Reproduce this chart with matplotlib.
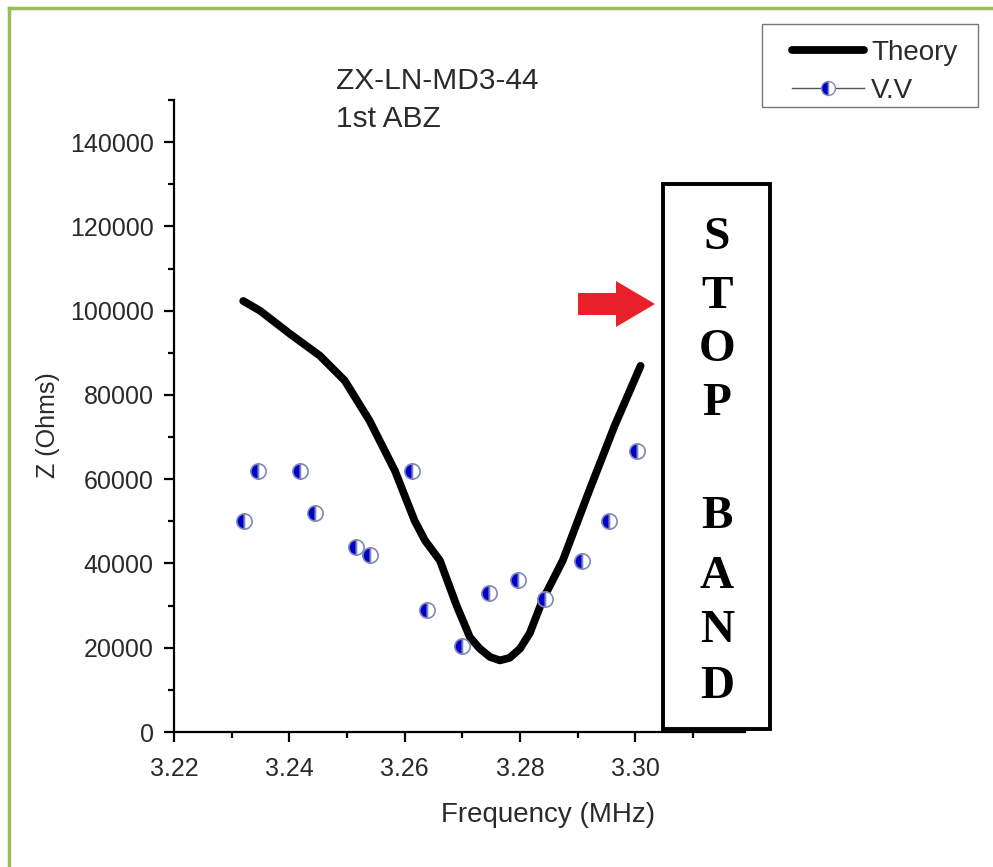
import matplotlib.pyplot as plt
from matplotlib.lines import Line2D
from matplotlib.patches import Polygon, Rectangle


# =====================================
# Data
# =====================================

theory_freq = [3.2320, 3.2349, 3.2401, 3.2453, 3.2496, 3.2539, 3.2583,
               3.2617, 3.2635, 3.2661, 3.2690, 3.2713, 3.2730, 3.2748,
               3.2765, 3.2782, 3.2800, 3.2817, 3.2839, 3.2874, 3.2920,
               3.2964, 3.3009]
theory_z = [102300, 100000, 94500, 89300, 83400, 73900, 62000,
            50200, 45500, 40700, 30000, 22500, 19800, 17800,
            17000, 17600, 19800, 23500, 31300, 40700, 57300,
            72700, 86900]

vv_freq = [3.2321, 3.2345, 3.2418, 3.2444, 3.2515, 3.2539, 3.2612,
           3.2638, 3.2699, 3.2747, 3.2796, 3.2844, 3.2908, 3.2955, 3.3003]
vv_z = [50000, 62000, 62000, 52000, 44000, 42000, 62000,
        29000, 20500, 33000, 36000, 31500, 40500, 50000, 66700]

x_ticks = [3.22, 3.24, 3.26, 3.28, 3.30]
x_tick_labels = ["3.22", "3.24", "3.26", "3.28", "3.30"]
y_ticks = [0, 20000, 40000, 60000, 80000, 100000, 120000, 140000]

stop_letters = ["S", "T", "O", "P", "", "B", "A", "N", "D"]


# =====================================
# Figure
# =====================================

W, H = 993, 867

plt.rcParams["font.family"] = ["Liberation Sans", "DejaVu Sans"]

fig = plt.figure(figsize=(W / 100, H / 100), dpi=100)
fig.patch.set_facecolor("white")

ax = fig.add_axes([174 / W, 1 - 732 / H, (745 - 174) / W, (732 - 100) / H])

ax.plot(theory_freq, theory_z, color="black", linewidth=5.6,
        solid_capstyle="round", solid_joinstyle="round", zorder=2)

ax.plot(vv_freq, vv_z, linestyle="none", marker="o", markersize=11,
        fillstyle="left", markerfacecolor="#0000cc",
        markerfacecoloralt="white", markeredgecolor="#8088b8",
        markeredgewidth=1.2, zorder=3)

ax.set_xlim(3.22, 3.319)
ax.set_ylim(0, 150000)

ax.set_xticks(x_ticks)
ax.set_xticklabels(x_tick_labels)
ax.set_xticks([3.23, 3.25, 3.27, 3.29, 3.31], minor=True)
ax.set_yticks(y_ticks)
ax.set_yticks([10000, 30000, 50000, 70000, 90000, 110000, 130000, 150000],
              minor=True)

ax.spines["top"].set_visible(False)
ax.spines["right"].set_visible(False)
ax.spines["left"].set_linewidth(1.6)
ax.spines["bottom"].set_linewidth(1.6)

ax.tick_params(which="major", direction="out", length=7, width=1.6,
               labelsize=18, labelcolor="#2a2a2a")
ax.tick_params(axis="y", which="major", pad=7.5)
ax.tick_params(axis="x", which="major", pad=11)
ax.tick_params(which="minor", direction="out", length=4, width=1.6)

ax.set_xlabel("Frequency (MHz)", fontsize=20, color="#2a2a2a")
ax.set_ylabel("Z (Ohms)", fontsize=18, color="#2a2a2a")
ax.xaxis.set_label_coords(0.655, -0.11)
ax.yaxis.set_label_coords(-0.199, 0.486)


# =====================================
# Annotations
# =====================================

fig.text(336 / W, 1 - 89 / H, "ZX-LN-MD3-44", fontsize=21.5,
         color="#2a2a2a", va="baseline")
fig.text(336 / W, 1 - 127 / H, "1st ABZ", fontsize=21.5,
         color="#2a2a2a", va="baseline")

# stop band box
fig.patches.append(Rectangle((663 / W, 1 - 729 / H), (770 - 663) / W,
                             (729 - 184) / H, transform=fig.transFigure,
                             fill=True, facecolor="white",
                             edgecolor="black", linewidth=2.8, zorder=5))

letter_y = [238, 297, 350, 404, 460, 517, 577, 631, 687]
for letter, ly in zip(stop_letters, letter_y):
    fig.text(717 / W, 1 - ly / H, letter, fontsize=34, fontweight="bold",
             family=["Liberation Serif", "DejaVu Serif"],
             ha="center", va="center", zorder=6)

# red arrow
arrow_px = [(578, 293), (616, 293), (616, 281), (655, 304),
            (616, 327), (616, 315), (578, 315)]
fig.patches.append(Polygon([(x / W, 1 - y / H) for x, y in arrow_px],
                           closed=True, transform=fig.transFigure,
                           facecolor="#e8202a", edgecolor="none", zorder=5))

# green frame
fig.add_artist(Line2D([9 / W, 9 / W], [0, 1 - 8 / H],
                      transform=fig.transFigure, color="#9bbb59",
                      linewidth=2.5))
fig.add_artist(Line2D([9 / W, 1], [1 - 8 / H, 1 - 8 / H],
                      transform=fig.transFigure, color="#9bbb59",
                      linewidth=2.5))


# =====================================
# Legend
# =====================================

fig.patches.append(Rectangle((762 / W, 1 - 107 / H), (978 - 762) / W,
                             (107 - 24) / H, transform=fig.transFigure,
                             facecolor="white", edgecolor="#777777",
                             linewidth=1))

handles = [
    Line2D([], [], color="black", linewidth=5.6, solid_capstyle="round"),
    Line2D([], [], color="#555555", linewidth=1, marker="o", markersize=10,
           fillstyle="left", markerfacecolor="#0000cc",
           markerfacecoloralt="white", markeredgecolor="#8088b8"),
]

leg = fig.legend(handles, ["Theory", "V.V"], loc="upper left",
                 bbox_to_anchor=(792 / W, 1 - 40 / H), fontsize=20,
                 frameon=False, handlelength=2.6, handletextpad=0.25,
                 borderpad=0, labelspacing=0.43, borderaxespad=0)
for t in leg.get_texts():
    t.set_color("#2a2a2a")


# =====================================
# Save Image
# =====================================

plt.savefig("out.png", dpi=100)
plt.close()
